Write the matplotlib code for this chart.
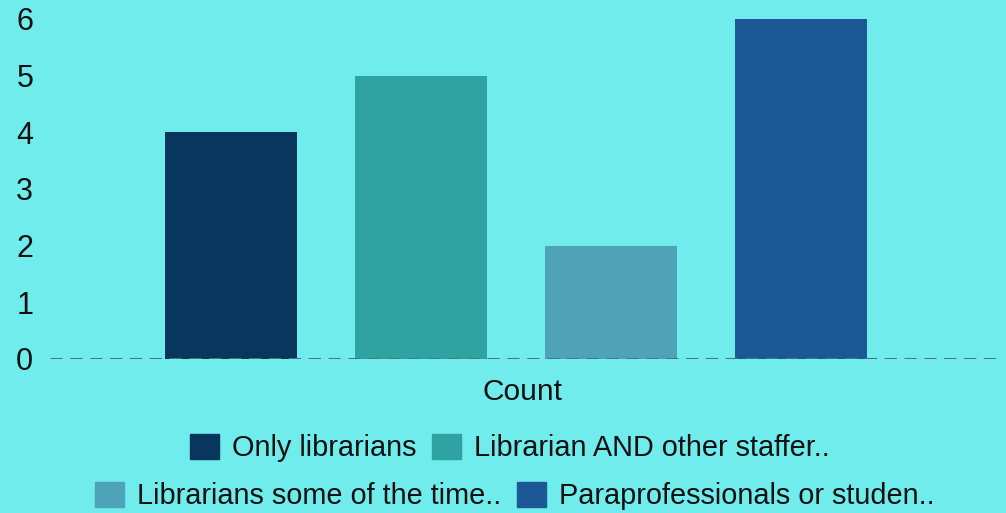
import matplotlib.pyplot as plt
from matplotlib.patches import Patch

# data
categories = ["Only librarians", "Librarian AND other staffer..",
              "Librarians some of the time..", "Paraprofessionals or studen.."]
counts = [4, 5, 2, 6]
colors = ["#08365E", "#2FA3A2", "#4FA3B8", "#1C5896"]
bg = "#70ECEC"

plt.rcParams['font.family'] = ['Liberation Sans', 'DejaVu Sans']

fig = plt.figure(figsize=(10.06, 5.13), dpi=100, facecolor=bg)
ax = fig.add_axes([50/1006, 1 - 359/513, 950/1006, 340/513])
ax.set_facecolor(bg)

x = list(range(len(counts)))
ax.bar(x, counts, width=0.695, color=colors, zorder=2)

ax.set_ylim(0, 6)
ax.set_xlim(-0.953, 4.047)
ax.axhline(0, color="#4A7878", linestyle=(0, (4, 2.5)), linewidth=2.2, zorder=3)

for s in ax.spines.values():
    s.set_visible(False)
ax.set_yticks(range(0, 7))
ax.tick_params(axis='y', length=0, labelsize=22, pad=12, colors="#111111")
ax.set_xticks([1.536])
ax.set_xticklabels(["Count"], fontsize=21.5, color="#111111")
ax.tick_params(axis='x', length=0, pad=14)

# legend rows, each centered on its own
handles = [Patch(facecolor=c, edgecolor=c) for c in colors]
kw = dict(frameon=False, fontsize=20.8, handlelength=1.0, handleheight=1.0,
          handletextpad=0.45, columnspacing=0.55, loc='center', ncol=2,
          labelcolor="#111111")
fig.legend(handles[:2], categories[:2], bbox_to_anchor=(0.507, 1 - 448/513), **kw)
fig.legend(handles[2:], categories[2:], bbox_to_anchor=(0.512, 1 - 496/513), **kw)

fig.savefig("out.png", dpi=100, facecolor=bg)
